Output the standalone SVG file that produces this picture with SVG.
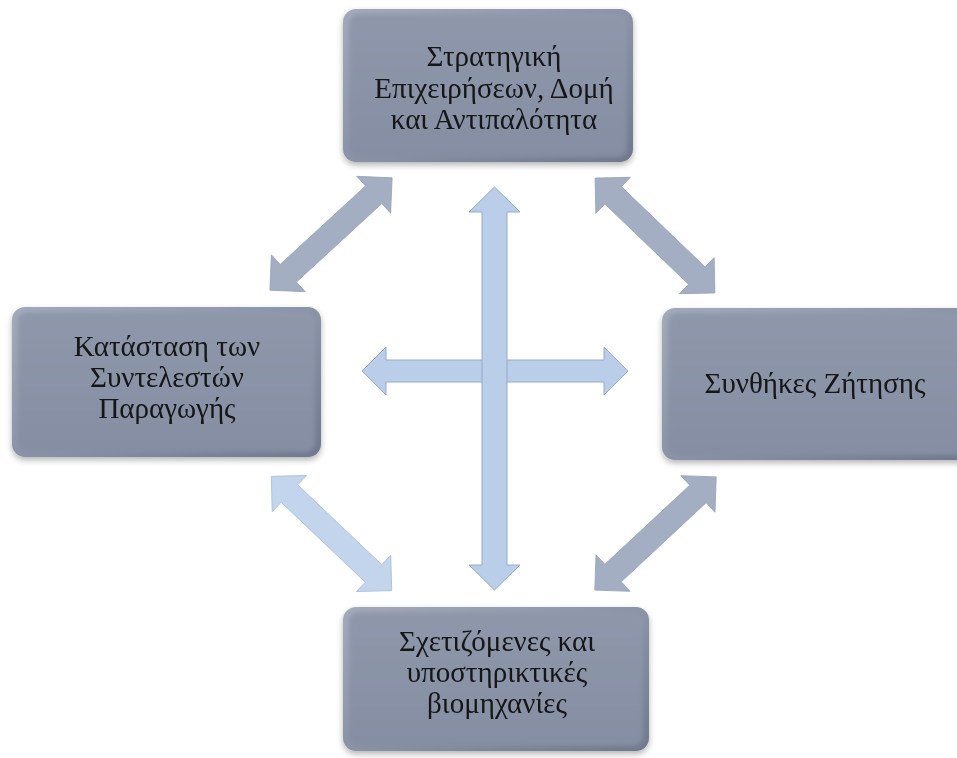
<svg xmlns="http://www.w3.org/2000/svg" width="957" height="758" viewBox="0 0 957 758">
<defs>
<linearGradient id="boxg" x1="0" y1="0" x2="0" y2="1">
<stop offset="0" stop-color="#8f98ab"/>
<stop offset="1" stop-color="#858ea2"/>
</linearGradient>
<linearGradient id="bevel" x1="0" y1="0" x2="1" y2="1">
<stop offset="0" stop-color="#a3abbb"/>
<stop offset="0.5" stop-color="#8b94a7"/>
<stop offset="1" stop-color="#6f788c"/>
</linearGradient>
<filter id="sh" x="-10%" y="-10%" width="120%" height="130%">
<feGaussianBlur in="SourceAlpha" stdDeviation="3"/>
<feOffset dx="0" dy="3" result="b"/>
<feComponentTransfer><feFuncA type="linear" slope="0.3"/></feComponentTransfer>
<feMerge><feMergeNode/><feMergeNode in="SourceGraphic"/></feMerge>
</filter>
<filter id="soft" x="-5%" y="-5%" width="110%" height="110%">
<feGaussianBlur stdDeviation="2"/>
</filter>
<polygon id="darr" points="-83,0 -58,-25 -58,-12 58,-12 58,-25 83,0 58,25 58,12 -58,12 -58,25"/>
</defs>
<style>
.outer{fill:url(#bevel);}
.inner{fill:url(#boxg);}
.t{font-family:"Liberation Serif","DejaVu Serif",serif;font-size:29px;fill:#141414;text-anchor:middle;}
.dark{fill:#a4aec2;stroke:#98a3b8;stroke-width:0.8;}
.light{fill:#c3d4ed;stroke:#aabdd9;stroke-width:0.8;}
.cross{fill:#bacde9;stroke:#96abca;stroke-width:1;}
</style>
<rect width="957" height="758" fill="#ffffff"/>
<g id="connectors">
<use href="#darr" class="dark" transform="translate(331,234) rotate(-42.6)"/>
<use href="#darr" class="dark" transform="translate(655,235.5) rotate(43.8)"/>
<use href="#darr" class="light" transform="translate(331.5,533.5) rotate(43.5)"/>
<use href="#darr" class="dark" transform="translate(655.5,533.5) rotate(-43)"/>
<polygon class="cross" points="362,371 386,347 386,360 604,360 604,347 628,371 604,395 604,382 386,382 386,395"/>
<polygon class="cross" points="494.5,187 520,212 507,212 507,565 520,565 494.5,590 469,565 482,565 482,212 469,212"/>
</g>
<g id="n-top" filter="url(#sh)">
<rect class="outer" x="343" y="9" width="290" height="153" rx="13"/>
<rect class="inner" x="349" y="14" width="278" height="143" rx="9" filter="url(#soft)"/>
<text class="t" x="494" y="66">Στρατηγική</text>
<text class="t" x="494" y="98">Επιχειρήσεων, Δομή</text>
<text class="t" x="494" y="129">και Αντιπαλότητα</text>
</g>
<g id="n-left" filter="url(#sh)">
<rect class="outer" x="12" y="307" width="309" height="150" rx="13"/>
<rect class="inner" x="18" y="312" width="297" height="140" rx="9" filter="url(#soft)"/>
<text class="t" x="167" y="356">Κατάσταση των</text>
<text class="t" x="167" y="387">Συντελεστών</text>
<text class="t" x="167" y="418">Παραγωγής</text>
</g>
<g id="n-right" filter="url(#sh)">
<rect class="outer" x="662" y="308" width="310" height="152" rx="13"/>
<rect class="inner" x="668" y="313" width="298" height="142" rx="9" filter="url(#soft)"/>
<text class="t" x="815" y="393">Συνθήκες Ζήτησης</text>
</g>
<g id="n-bottom" filter="url(#sh)">
<rect class="outer" x="343" y="607" width="306" height="144" rx="13"/>
<rect class="inner" x="349" y="612" width="294" height="134" rx="9" filter="url(#soft)"/>
<text class="t" x="497" y="651">Σχετιζόμενες και</text>
<text class="t" x="497" y="682">υποστηρικτικές</text>
<text class="t" x="497" y="713">βιομηχανίες</text>
</g>
</svg>
